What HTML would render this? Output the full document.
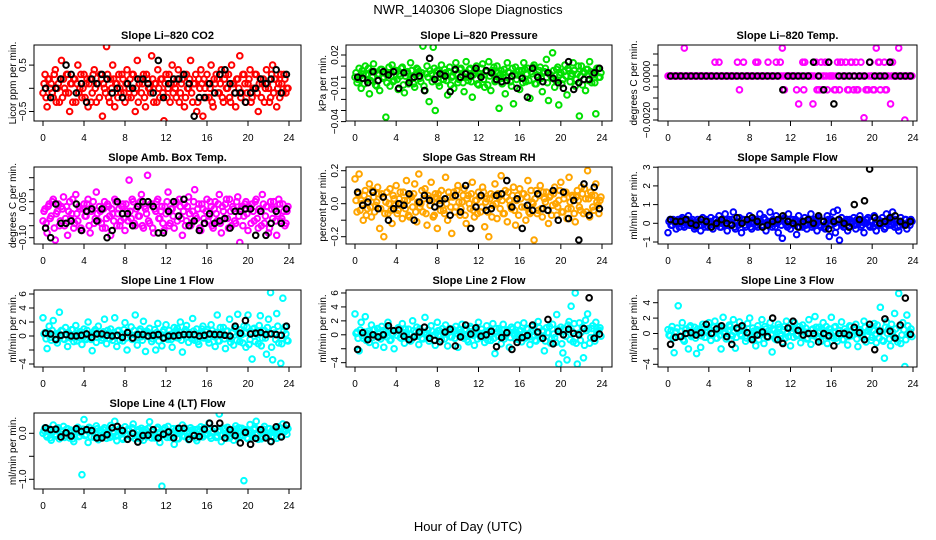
<!DOCTYPE html>
<html><head><meta charset="utf-8"><style>
body{margin:0;background:#fff}
svg{display:block;font-family:"Liberation Sans",sans-serif}
</style></head><body>
<svg id="chart" width="936" height="540" viewBox="0 0 936 540">
<text x="468" y="14" text-anchor="middle" font-size="13">NWR_140306  Slope Diagnostics</text>
<text x="468" y="531" text-anchor="middle" font-size="13">Hour of Day (UTC)</text>
</svg>
<script>
const colorStep = 0.2, color2Start = 0.1;
const blackStep = 0.5, blackStart = 0.25;
const xTicks = [0,4,8,12,16,20,24];

const co2 = [-0.1,0.3,-0.4,0.2,0.1,-0.2,0.4,0.0,-0.3,0.6,0.2,-0.1,0.3,-0.5,0.1,0.2,-0.3,0.5,0.0,-0.2,
0.3,0.1,-0.4,0.2,-0.1,0.4,-0.3,0.1,0.3,-0.6,0.0,0.9,-0.2,0.2,0.5,-0.4,0.1,0.3,-0.1,0.2,
-0.3,0.4,0.0,-0.2,0.3,-0.5,0.6,0.1,-0.1,0.3,-0.4,0.2,0.0,0.7,-0.3,0.1,0.4,-0.2,0.2,-0.7,
0.3,0.0,-0.3,0.5,0.1,-0.2,0.4,-0.1,0.2,-0.4,0.3,0.0,0.6,-0.3,0.1,-0.5,0.2,0.4,-0.6,0.0,
0.3,-0.2,0.5,-0.4,0.1,0.2,-0.1,0.4,-0.3,0.3,0.0,-0.2,0.5,0.1,-0.4,0.2,0.7,-0.1,0.3,-0.3,
0.1,0.4,-0.2,0.0,0.3,-0.5,0.2,0.1,-0.3,0.4,0.0,-0.2,0.5,0.2,-0.4,0.1,0.3,-0.1,0.2,0.0];
const co2B = [0.1,-0.2,0.2,0.0,-0.1,0.3,-0.3,0.1,0.2,-0.2,0.0,0.3,-0.1,0.1,-0.3,0.2,0.1,-0.1,0.3,0.0,
-0.2,0.2,0.1,-0.3,0.3,0.0,0.1,-0.2,0.2,0.1,-0.1,0.3,-0.3,0.0,0.2,0.1,-0.2,0.0,0.3,-0.1,
0.1,-0.2,0.2,0.3,-0.1,0.0,-0.3,0.2,0.1,-0.2,0.3,0.0,-0.1,0.2,0.1,-0.3,0.0,0.2,-0.1,0.1,
-0.2,0.3,0.1,-0.1,0.0,0.2,-0.3,0.1,0.3,-0.2,0.0,0.2,-0.1,0.1,0.3,-0.3,0.0,0.1,0.2,-0.2,
0.1,0.0,-0.3,0.2,0.3,-0.1,0.1,-0.2,0.2,0.0,0.3,-0.3,0.1,-0.1,0.2,0.0,-0.2,0.3,0.1,-0.1,
0.2,-0.3,0.0,0.3,-0.1,0.1,-0.2,0.2,0.0,0.1,-0.3,0.3,-0.1,0.2,0.0,-0.2,0.1,0.3,-0.1,0.0];
const co2Black = [0.0,-0.2,0.0,0.2,0.5,0.3,-0.1,0.1,-0.3,0.2,0.1,0.3,0.2,-0.1,0.0,-0.2,0.1,0.0,0.2,0.2,0.1,-0.1,0.6,-0.2,0.1,0.2,0.2,0.3,0.1,-0.6,-0.2,-0.2,0.1,-0.1,0.3,0.4,0.1,-0.1,-0.1,-0.3,-0.1,0.0,0.2,0.1,0.2,0.4,-0.1,0.3];

const pres = [0.000,-0.005,0.008,-0.010,0.003,0.010,-0.002,-0.015,0.005,0.012,-0.007,0.002,-0.012,0.007,0.000,-0.036,0.004,-0.008,0.011,-0.003,
0.006,-0.011,0.001,0.009,-0.014,0.004,-0.006,0.013,0.000,-0.009,0.008,0.005,-0.004,0.028,-0.012,0.010,-0.022,0.003,0.027,-0.030,
0.006,-0.008,0.011,-0.002,0.004,-0.016,0.009,0.000,-0.010,0.013,-0.005,0.007,0.002,-0.013,0.014,-0.003,0.008,-0.018,0.004,0.010,
-0.007,0.001,0.012,-0.009,0.005,0.014,-0.012,0.003,-0.004,0.010,-0.028,0.006,0.000,-0.015,0.013,0.004,-0.008,-0.024,0.009,0.002,
-0.011,0.006,0.013,-0.004,0.008,-0.019,0.003,0.011,-0.006,0.000,0.009,-0.013,0.005,0.016,-0.021,0.002,0.022,-0.009,0.007,-0.025,
0.004,-0.002,0.011,-0.016,0.006,0.001,0.013,-0.008,0.003,-0.035,0.010,0.005,-0.012,0.007,0.014,-0.005,0.002,-0.033,0.008,0.000];
const presB = [0.004,-0.002,0.001,0.006,-0.006,0.002,0.008,-0.003,0.000,0.005,-0.008,0.003,0.007,-0.001,0.004,-0.005,0.009,0.001,-0.004,0.006,
-0.002,0.003,0.008,-0.007,0.001,0.005,-0.003,0.006,-0.006,0.002,0.007,-0.001,0.004,-0.008,0.003,0.000,0.006,-0.004,0.008,0.001,
-0.005,0.004,0.002,0.007,-0.003,0.005,-0.007,0.001,0.006,0.003,-0.002,0.008,-0.005,0.004,0.000,0.007,-0.004,0.002,0.006,-0.006,
0.003,0.008,-0.002,0.005,-0.007,0.001,0.006,0.009,-0.003,0.004,0.002,-0.006,0.007,0.000,0.005,-0.004,0.008,0.002,-0.002,0.006,
0.001,-0.005,0.007,0.003,-0.003,0.005,0.009,-0.006,0.002,0.006,-0.001,0.004,0.008,-0.005,0.003,0.000,0.006,-0.003,0.009,0.002,
-0.006,0.005,0.001,0.008,-0.004,0.003,0.006,-0.002,0.010,0.001,-0.007,0.004,0.007,-0.003,0.005,0.002,-0.005,0.008,0.000,0.004];
const presBlack = [0.000,-0.001,-0.005,0.005,-0.003,0.005,0.002,0.005,-0.010,0.004,-0.005,0.000,0.001,-0.012,0.017,-0.002,0.003,0.001,-0.013,0.007,0.000,0.003,0.001,0.008,0.000,0.006,0.004,-0.002,-0.004,-0.003,0.001,-0.010,-0.001,-0.018,0.008,0.000,-0.004,0.004,-0.001,-0.005,-0.010,0.014,-0.011,-0.005,-0.002,-0.002,0.004,0.008];

// temperature values in units of 1e-4 degC/min
const temp = [0,0,0,0,0,0,0,0,12.7,0,0,0,0,0,0,0,0,0,0,0,
0,0,0,6.3,0,6.3,0,0,0,0,0,0,0,0,6.3,-6.3,0,6.3,0,0,
0,0,0,6.3,6.3,0,0,0,0,6.3,0,0,0,6.3,0,6.3,12.7,-6.3,0,0,
0,0,0,-6.3,-12.7,0,6.3,6.3,0,0,0,-12.7,6.3,-6.3,-6.3,6.3,0,6.3,-6.3,0,
0,0,-6.3,6.3,-6.3,6.3,0,6.3,-6.3,0,6.3,-6.3,6.3,-6.3,0,0,-19,-6.3,-6.3,6.3,
0,-6.3,12.7,6.3,-6.3,0,6.3,-6.3,0,-12.7,6.3,0,0,12.7,0,0,-20,0,0,0];
const tempB = [0,0,0,0,0,0,0,0,0,0,0,0,0,0,0,0,0,0,0,0,
0,0,0,0,0,0,0,0,0,0,0,0,0,0,0,0,0,0,0,0,
0,0,0,0,0,0,0,0,0,0,0,0,0,0,0,0,0,0,0,0,
0,0,0,0,0,0,-6.3,0,0,0,0,0,6.3,0,0,-6.3,0,0,6.3,0,
0,-6.3,0,0,6.3,0,0,0,-6.3,6.3,0,0,-6.3,0,6.3,0,0,-6.3,0,0,
-6.3,0,0,6.3,0,0,-6.3,0,6.3,0,0,0,0,0,0,0,0,0,0,0];
const tempBlack = [0,0,0,0,0,0,0,0,0,0,0,0,0,0,0,0,0,0,0,0,0,0,-6.3,0,0,0,0,0,6.3,0,-6.3,6.3,-12.7,0,0,0,0,0,0,6.3,0,0,0,6.3,0,0,0,0];

const amb = [-0.03,0.02,-0.08,0.04,-0.01,0.06,-0.11,0.01,-0.05,0.03,0.07,-0.02,-0.09,0.05,0.00,-0.06,0.08,-0.03,0.02,-0.07,
0.04,-0.01,0.06,-0.08,0.02,-0.04,0.09,-0.03,0.01,-0.06,0.05,-0.02,0.03,-0.09,0.00,0.06,-0.05,0.02,-0.03,0.04,
-0.07,0.01,0.14,-0.02,0.05,-0.05,0.03,-0.01,0.08,-0.06,0.02,0.16,-0.04,0.04,-0.08,0.01,0.06,-0.02,0.03,-0.07,
0.00,0.09,-0.04,0.02,-0.06,0.05,-0.01,0.03,-0.09,0.04,-0.03,0.07,-0.05,0.01,0.10,-0.02,0.04,-0.07,0.02,-0.04,
0.06,-0.01,0.03,-0.06,0.05,-0.03,0.08,-0.08,0.01,0.04,-0.02,0.06,-0.05,0.02,-0.04,0.07,-0.12,0.03,-0.01,0.05,
-0.07,0.02,0.04,-0.03,0.06,-0.06,0.01,0.08,-0.04,0.03,-0.08,0.05,-0.02,0.02,-0.09,0.06,-0.03,0.04,-0.05,0.01];
const ambB = [0.01,-0.04,0.03,-0.02,0.05,-0.06,0.00,0.04,-0.03,0.02,-0.05,0.03,0.01,-0.02,0.06,-0.04,0.00,0.03,-0.06,0.02,
-0.01,0.04,-0.05,0.01,0.05,-0.02,0.00,0.03,-0.04,0.02,-0.06,0.04,-0.01,0.02,-0.03,0.05,0.00,-0.05,0.03,-0.02,
0.04,-0.03,0.01,0.06,-0.04,0.02,-0.01,0.05,-0.05,0.03,0.00,-0.03,0.04,-0.06,0.02,0.05,-0.02,0.01,-0.04,0.03,
0.05,-0.05,0.02,-0.01,0.04,-0.03,0.06,-0.02,0.01,-0.05,0.03,0.00,-0.04,0.05,-0.01,0.02,-0.06,0.04,-0.02,0.01,
-0.03,0.05,-0.05,0.02,0.00,0.04,-0.04,0.03,-0.02,0.06,-0.06,0.01,0.03,-0.03,0.05,-0.01,0.02,-0.05,0.04,0.00,
0.03,-0.04,0.01,0.05,-0.02,0.02,-0.05,0.04,-0.01,0.03,-0.06,0.02,0.05,-0.03,0.00,0.04,-0.02,0.01,-0.04,0.03];
const ambBlack = [-0.06,-0.10,0.04,-0.04,-0.04,-0.03,0.04,-0.07,0.01,0.02,-0.03,0.02,-0.10,-0.07,0.05,0.00,0.00,-0.05,0.03,0.05,0.05,0.03,-0.08,-0.08,0.01,0.05,-0.01,0.06,-0.05,-0.03,-0.07,-0.04,0.00,-0.04,-0.03,-0.02,-0.06,0.01,0.01,0.02,0.02,-0.09,0.01,-0.09,-0.04,0.01,-0.04,0.02];

const rh = [0.15,-0.05,0.18,0.02,-0.10,0.08,-0.03,0.12,-0.08,0.04,-0.01,0.10,-0.15,0.06,-0.20,0.01,-0.06,0.09,-0.12,0.03,
0.11,-0.04,0.07,-0.09,0.02,0.14,-0.07,0.05,-0.02,0.12,-0.11,0.18,0.00,-0.05,0.09,-0.13,0.03,0.13,-0.08,0.06,
-0.15,0.02,0.08,-0.04,0.16,-0.10,0.04,-0.18,0.07,-0.02,0.11,-0.07,0.01,0.09,-0.12,0.05,-0.03,0.13,-0.08,0.02,
0.07,-0.05,0.10,-0.14,0.03,-0.20,0.06,-0.01,0.12,-0.09,0.04,0.17,-0.06,0.08,-0.11,0.02,-0.03,0.10,-0.13,0.05,
0.09,-0.02,0.06,-0.10,0.14,-0.06,0.01,-0.22,0.08,-0.04,0.11,-0.08,0.03,0.07,-0.12,0.05,-0.01,0.10,-0.07,0.02,
0.13,-0.05,0.06,-0.09,0.16,-0.03,0.04,-0.11,0.08,-0.02,0.10,-0.06,0.03,0.20,-0.08,0.05,-0.04,0.12,-0.01,0.02];
const rhB = [0.02,0.06,-0.04,0.00,0.05,-0.07,0.03,-0.02,0.08,-0.05,0.01,0.06,-0.03,0.04,-0.06,0.07,0.00,-0.04,0.05,-0.01,
-0.06,0.03,0.00,0.07,-0.03,0.02,-0.08,0.04,0.06,-0.05,0.01,-0.02,0.08,0.03,-0.06,0.05,-0.01,0.02,-0.07,0.04,
0.06,-0.04,0.02,-0.06,0.00,0.07,-0.02,0.04,-0.05,0.08,0.01,-0.03,0.05,-0.07,0.03,0.00,0.06,-0.04,0.02,-0.06,
0.04,-0.02,0.07,0.01,-0.05,0.03,-0.08,0.05,0.00,0.06,-0.03,0.02,-0.06,0.04,0.07,-0.01,0.05,-0.04,0.02,-0.07,
0.03,0.06,-0.02,0.04,-0.05,0.08,0.00,0.03,-0.06,0.05,-0.03,0.07,0.01,-0.04,0.04,-0.07,0.06,0.00,-0.02,0.08,
-0.05,0.03,0.07,-0.03,0.01,0.05,-0.06,0.04,0.02,-0.04,0.06,0.09,-0.05,0.03,0.07,-0.02,0.05,0.01,-0.06,0.04];
const rhBlack = [0.07,-0.01,0.01,0.07,-0.03,0.04,-0.10,-0.03,0.00,-0.01,0.06,-0.10,0.01,0.05,0.02,-0.02,0.00,0.03,-0.07,0.05,-0.05,0.11,-0.15,-0.02,0.05,-0.04,-0.03,0.05,0.06,0.14,-0.02,0.03,-0.15,-0.01,-0.04,0.06,-0.03,-0.04,0.08,-0.10,0.07,-0.09,0.02,-0.22,0.12,-0.07,0.10,-0.03];

const sflow = [-0.5,0.2,-0.1,0.1,-0.3,0.2,0.0,0.3,-0.2,0.1,0.4,-0.1,0.2,-0.3,0.0,0.1,-0.4,0.3,-0.2,0.1,
0.0,0.3,-0.3,0.2,-0.1,0.4,-0.2,0.1,0.5,-0.4,0.2,-0.1,0.6,-0.3,0.1,0.3,-0.5,0.2,-0.2,0.1,
0.4,-0.3,0.0,0.2,-0.2,0.5,-0.1,0.3,-0.4,0.1,0.6,-0.2,0.0,0.4,-0.5,0.2,-0.8,0.3,-0.1,0.5,
-0.3,0.2,0.1,-0.6,0.4,0.0,-0.2,0.3,-0.3,0.1,0.5,-0.1,0.2,-0.4,0.3,-0.2,0.1,-0.3,0.4,-0.7,
0.2,0.6,-0.5,0.7,-0.9,0.3,-0.2,0.1,-0.4,0.2,0.0,0.3,-0.3,0.1,0.4,-0.1,-0.5,0.2,0.3,-0.2,
0.1,0.4,-0.4,0.2,0.0,0.3,-0.3,0.5,-0.1,0.2,0.6,-0.2,0.1,-0.4,0.3,0.0,0.2,-0.3,0.1,0.2];
const sflowB = [0.1,-0.1,0.2,0.0,0.1,-0.2,0.2,-0.1,0.0,0.2,-0.1,0.1,0.0,-0.2,0.2,0.1,-0.1,0.0,0.2,-0.2,
0.1,0.0,-0.1,0.2,0.1,-0.2,0.0,0.2,-0.1,0.1,0.0,0.2,-0.2,0.1,-0.1,0.0,0.2,-0.1,0.1,0.0,
-0.2,0.1,0.2,-0.1,0.0,0.1,-0.2,0.2,0.0,-0.1,0.1,0.2,-0.2,0.0,0.1,-0.1,0.2,0.0,-0.2,0.1,
0.0,-0.1,0.2,0.1,-0.2,0.0,0.1,-0.1,0.2,0.0,-0.2,0.1,0.0,0.2,-0.1,0.1,-0.2,0.0,0.2,-0.1,
0.1,0.0,-0.2,0.2,0.0,-0.1,0.1,0.2,-0.2,0.0,0.1,-0.1,0.2,0.0,-0.2,0.1,0.0,0.2,-0.1,0.1,
-0.2,0.0,0.2,-0.1,0.1,0.0,-0.2,0.2,0.1,-0.1,0.0,0.2,-0.2,0.1,0.0,-0.1,0.2,0.0,-0.1,0.1];
const sflowBlack = [0.2,0.1,0.1,0.2,0.0,-0.1,0.2,0.1,-0.2,0.0,0.2,0.0,-0.1,0.3,0.0,0.2,0.3,0.1,-0.2,-0.1,0.1,0.2,0.4,0.1,0.0,-0.2,0.1,0.2,0.0,0.4,0.1,-0.3,0.1,0.2,0.0,-0.2,1.0,0.2,1.2,2.9,0.3,0.0,0.1,0.3,0.4,0.1,-0.1,0.1];

const line1 = [2.6,0.5,-1.8,1.4,-0.6,2.2,0.3,-1.0,3.4,0.8,-0.4,1.2,-1.5,0.2,0.9,-0.8,1.5,-0.2,0.6,-1.2,
1.0,-0.5,2.0,0.1,-2.1,0.7,-0.9,1.4,0.0,-0.3,2.4,-1.1,0.4,1.0,-0.6,2.6,-1.5,0.8,0.2,-0.7,
1.9,-2.0,0.5,1.3,-0.4,3.0,-1.3,0.7,-0.1,2.1,-2.2,0.6,1.1,-0.8,0.3,-2.0,1.8,0.0,-1.4,0.9,
1.6,-0.5,0.2,-1.6,1.2,0.8,-0.3,2.0,-2.3,0.6,1.5,-0.9,0.1,2.5,-0.6,1.0,-1.2,0.4,1.4,-0.2,
0.9,-1.0,1.6,0.3,-1.5,3.0,-0.7,0.5,1.2,-1.8,0.7,2.4,-0.4,-1.3,1.0,3.1,-0.8,0.2,1.4,-1.6,
3.0,-0.5,-3.3,1.1,0.6,-1.1,2.9,-0.3,0.8,-2.6,2.4,6.2,-3.4,0.4,3.2,-1.0,-3.9,5.4,1.3,-0.6];
const line1B = [0.3,-0.4,0.6,-0.2,0.8,0.1,-0.6,0.4,-0.1,0.7,-0.5,0.2,0.5,-0.3,0.9,0.0,-0.7,0.3,0.6,-0.2,
-0.4,0.8,0.1,-0.5,0.4,0.9,-0.2,0.3,-0.6,0.6,0.0,0.8,-0.4,0.2,0.5,-0.1,0.7,-0.6,0.3,0.9,
-0.3,0.6,0.1,-0.5,0.8,0.2,-0.2,1.0,-0.6,0.4,0.7,-0.1,0.3,-0.4,0.9,0.5,-0.7,0.2,0.6,-0.3,
0.1,0.8,-0.5,0.4,-0.2,1.1,0.6,-0.6,0.3,0.9,-0.1,0.5,-0.4,0.7,0.2,-0.8,0.4,1.0,-0.3,0.6,
-0.5,0.3,0.8,-0.1,0.5,-0.7,1.2,0.2,-0.4,0.7,0.0,-0.9,0.5,1.1,-0.6,0.3,0.9,-1.0,0.4,1.3,
-1.2,0.6,1.0,-0.8,0.2,1.5,-1.4,0.7,-0.3,1.2,0.4,-1.6,0.9,-0.5,1.4,0.1,-1.1,0.8,0.3,-0.7];
const line1Black = [0.4,0.3,-0.5,0.1,0.2,0.0,0.0,0.1,0.3,-0.2,0.3,0.3,0.1,0.0,0.1,-0.2,0.5,-0.3,0.2,0.2,0.0,0.1,0.2,-0.3,0.0,0.0,0.1,0.2,0.2,0.2,0.0,0.1,0.3,0.2,0.2,0.1,0.0,1.4,0.4,2.2,0.3,0.4,0.5,0.2,0.3,0.2,0.1,1.4];

const line2 = [3.0,0.4,-2.3,1.8,-0.5,2.6,0.2,-1.1,1.4,0.7,-1.5,0.9,-0.3,1.2,-1.8,0.5,1.8,-0.8,0.1,-2.0,
0.6,1.0,-0.4,1.6,-1.2,0.3,0.8,-0.9,2.0,-0.2,1.1,-1.4,0.4,-0.6,2.5,0.2,-0.9,1.3,-0.1,-1.5,
1.8,0.6,-0.7,0.1,1.4,-1.6,0.9,-0.3,0.5,1.2,-1.8,0.3,1.5,-0.5,0.8,-1.0,1.2,0.0,-1.5,0.7,
1.8,-0.4,0.2,-1.1,1.3,0.6,-0.8,1.6,-2.7,0.4,0.9,-1.3,1.5,-0.2,0.7,-1.8,1.1,0.2,-0.6,1.4,
0.5,-1.0,1.7,-0.3,0.8,-1.4,1.2,0.0,-0.9,1.9,-0.5,0.6,-2.3,1.0,0.3,-1.2,1.5,-0.4,2.9,-4.2,
1.1,-2.6,0.7,-3.6,1.9,4.1,-1.0,6.0,-4.2,1.7,0.4,-3.3,2.1,3.0,-1.2,0.9,-0.4,1.8,0.5,1.0];
const line2B = [0.2,-0.5,0.7,-0.1,0.4,-0.8,0.5,0.1,-0.4,0.8,-0.2,0.3,-0.6,0.6,0.0,-0.3,0.9,-0.7,0.2,0.5,
-0.1,0.7,-0.5,0.3,0.8,-0.3,0.1,-0.7,0.6,0.4,-0.2,0.9,-0.5,0.2,0.0,0.7,-0.4,0.5,-0.8,0.3,
0.6,-0.2,0.9,-0.6,0.1,0.4,-0.3,0.8,-0.5,0.2,0.7,0.0,-0.4,0.6,-0.7,0.3,0.9,-0.1,0.5,-0.6,
0.2,0.8,-0.3,0.4,-0.8,0.6,0.1,-0.5,0.9,-0.2,0.3,0.7,-0.6,0.0,0.5,-0.4,0.8,-0.1,0.3,-0.7,
0.6,0.1,-0.5,0.9,-0.3,0.4,0.7,-0.8,0.2,1.0,-0.4,0.5,-0.9,0.3,1.2,-0.6,0.1,-1.1,0.8,0.4,
-1.3,0.9,-0.2,1.4,-0.7,0.5,1.6,-1.2,0.2,-0.8,1.1,-1.5,0.6,0.9,-0.4,1.3,-0.9,0.3,0.7,-0.2];
const line2Black = [-2.1,0.3,-0.7,0.0,-0.3,0.0,1.3,0.6,0.7,-0.2,-0.7,-0.3,0.4,1.1,-0.5,-0.8,-1.0,0.4,0.8,-1.6,-0.3,1.4,0.1,1.0,-0.2,0.0,0.5,-1.7,-0.4,0.3,-2.1,-1.1,-0.4,-0.1,1.4,0.4,-0.5,2.2,-1.3,0.5,0.0,0.8,0.2,0.0,0.9,5.3,-0.5,0.1];

const line3 = [0.5,-0.3,0.9,-2.5,0.2,3.6,-0.4,1.4,-1.0,0.6,-2.0,1.0,-0.2,0.8,-2.6,0.3,-1.8,1.2,-0.5,0.4,
1.4,-0.9,0.1,1.6,-0.6,0.9,-2.0,2.1,0.2,-0.4,1.1,-0.8,1.8,-1.9,0.5,1.5,-0.3,0.7,-1.0,1.3,
2.0,-0.6,0.3,-1.6,1.0,-0.2,1.8,-1.3,0.6,-0.5,1.4,-2.4,0.4,-0.8,1.2,0.0,-1.1,0.9,1.6,-0.4,
-1.6,0.7,1.4,-0.3,0.5,-1.2,1.1,0.2,-0.7,1.8,-1.4,0.6,2.2,-0.5,0.8,-1.0,1.4,0.1,-1.3,0.6,
2.1,-0.6,0.9,-1.0,0.4,1.5,-0.8,0.2,-1.5,1.0,-0.3,0.7,1.2,-1.7,0.5,-0.4,1.6,-1.1,0.3,0.8,
-0.5,1.3,-1.2,0.4,3.4,-0.9,-3.2,1.5,0.6,-1.6,0.2,2.6,-0.7,5.2,-1.3,1.4,-4.3,2.4,-0.2,0.6];
const line3B = [-0.2,0.4,-0.6,0.1,0.7,-0.3,0.3,-0.8,0.5,0.0,0.8,-0.4,0.2,-0.6,0.6,0.1,-0.3,0.9,-0.5,0.2,
0.5,-0.1,0.8,-0.6,0.3,-0.2,0.7,0.0,-0.7,0.4,0.9,-0.3,0.2,-0.5,0.6,-0.1,0.8,0.3,-0.6,0.1,
-0.4,0.7,-0.2,0.5,-0.8,0.3,0.0,0.9,-0.5,0.4,-0.1,0.6,-0.7,0.2,0.8,-0.3,0.5,-0.6,0.1,0.7,
0.3,-0.5,0.6,-0.1,0.9,-0.4,0.2,0.7,-0.6,0.0,0.5,-0.3,0.8,-0.7,0.3,0.6,-0.2,0.9,-0.5,0.1,
-0.3,0.8,-0.6,0.4,0.0,-0.8,0.6,0.2,-0.4,0.9,-0.2,0.5,-0.7,0.3,0.1,-0.5,0.8,-0.3,0.6,-0.9,
0.4,-0.1,1.1,-0.6,0.3,-1.0,0.8,0.0,-0.7,1.2,-0.4,0.6,-1.1,0.9,-0.2,0.5,-0.8,1.0,0.2,-0.4];
const line3Black = [-1.4,-0.5,-0.4,0.0,0.1,-0.2,0.1,1.2,0.0,0.6,1.0,-0.4,-1.4,0.7,1.0,0.1,-0.8,-0.2,0.2,-0.4,2.0,-0.8,-1.3,0.7,1.6,0.4,-0.2,0.0,0.0,-1.1,0.0,-0.3,-1.6,0.0,0.0,-0.2,0.8,0.1,-0.8,1.2,-2.1,0.3,1.9,0.3,-0.6,1.1,4.6,-0.1];

const line4 = [0.0,0.12,-0.08,0.05,-0.15,0.18,-0.02,0.08,-0.12,0.03,0.15,-0.05,0.10,-0.10,0.02,-0.18,0.06,0.13,-0.06,-0.90,
0.30,-0.03,-0.20,0.11,0.04,-0.09,0.16,-0.14,0.07,-0.04,0.12,-0.11,0.01,0.17,-0.07,0.26,-0.16,0.05,0.09,-0.13,
0.14,-0.02,0.06,-0.08,0.20,-0.12,0.03,-0.05,0.11,-0.15,0.08,-0.01,0.25,-0.10,0.04,-0.06,0.13,-0.20,-1.15,0.07,
-0.03,0.15,-0.09,0.02,-0.24,0.10,-0.12,0.05,0.18,-0.07,0.01,-0.14,0.12,-0.04,0.08,-0.16,0.03,0.14,-0.08,0.06,
-0.02,0.22,-0.11,0.04,0.10,-0.06,0.42,-0.18,0.09,-0.03,0.13,-0.10,0.05,-0.15,0.16,0.02,-0.07,0.11,-1.03,0.06,
-0.12,0.19,-0.04,0.08,0.26,-0.13,0.03,-0.09,0.15,-0.05,0.10,-0.17,0.07,0.01,-0.11,0.14,-0.06,0.20,0.04,-0.02];
const line4B = [0.06,-0.04,0.10,-0.10,0.02,0.08,-0.06,0.12,-0.02,0.05,-0.09,0.09,-0.03,0.07,-0.12,0.04,0.11,-0.07,0.01,0.09,
-0.05,0.06,0.13,-0.08,0.03,-0.01,0.10,-0.11,0.05,0.08,-0.04,0.02,-0.09,0.12,0.00,-0.06,0.07,0.10,-0.10,0.04,
-0.03,0.09,-0.07,0.12,0.01,-0.05,0.08,-0.12,0.06,0.02,-0.08,0.11,-0.02,0.05,-0.10,0.09,0.00,-0.06,0.07,0.12,
-0.09,0.04,-0.03,0.10,0.06,-0.11,0.02,0.08,-0.05,0.11,-0.08,0.03,0.07,-0.01,-0.10,0.09,0.05,-0.07,0.12,-0.03,
0.08,-0.06,0.01,0.10,-0.09,0.04,0.07,-0.04,0.11,-0.11,0.02,0.06,-0.02,0.09,-0.07,0.12,0.03,-0.05,0.08,-0.10,
0.05,0.00,-0.08,0.11,-0.03,0.07,-0.12,0.09,0.02,-0.06,0.10,0.04,-0.09,0.06,-0.01,0.12,-0.07,0.03,0.08,0.10];
const line4Black = [0.12,0.08,0.09,-0.08,0.01,-0.06,0.10,0.04,0.08,0.06,-0.10,-0.10,-0.03,0.12,0.15,0.06,-0.13,0.00,-0.19,-0.05,-0.04,0.08,-0.10,-0.02,0.03,-0.10,0.11,0.11,-0.13,-0.05,-0.07,0.09,0.22,0.10,0.22,-0.10,0.08,-0.05,-0.21,0.02,-0.24,-0.11,0.08,-0.10,-0.18,0.14,-0.08,0.18];

const titles = ["Slope Li\u2013820 CO2","Slope Li\u2013820 Pressure","Slope Li\u2013820 Temp.","Slope Amb. Box Temp.","Slope Gas Stream RH","Slope Sample Flow","Slope Line 1 Flow","Slope Line 2 Flow","Slope Line 3 Flow","Slope Line 4 (LT) Flow"];
const yTitles = ["Licor ppm per min.","kPa per min.","degrees C per min.","degrees C per min.","percent per min.","ml/min per min.","ml/min per min.","ml/min per min.","ml/min per min.","ml/min per min."];
const yTicks = [[0.5,0,-0.5],[0.02,0.01,0,-0.01,-0.02,-0.03,-0.04],[10,5,0,-5,-10,-15,-20],[0.15,0.1,0.05,0,-0.05,-0.1],[0.2,0.1,0,-0.1,-0.2],[3,2,1,0,-1],[6,4,2,0,-2,-4],[6,4,2,0,-2,-4],[4,2,0,-2,-4],[0,-0.5,-1]];
const yTickLabels = [["0.5","","\u22120.5"],["0.02","","","\u22120.01","","","\u22120.04"],["","","0.0000","","","","\u22120.0020"],["","","0.05","","","\u22120.10"],["0.2","","0.0","","\u22120.2"],["3","2","1","0","\u22121"],["6","4","2","0","","\u22124"],["6","4","2","0","","\u22124"],["4","2","0","","\u22124"],["0.0","","\u22121.0"]];
const colorSeries = [co2,pres,temp,amb,rh,sflow,line1,line2,line3,line4];
const colorSeries2 = [co2B,presB,tempB,ambB,rhB,sflowB,line1B,line2B,line3B,line4B];
const blackSeries = [co2Black,presBlack,tempBlack,ambBlack,rhBlack,sflowBlack,line1Black,line2Black,line3Black,line4Black];

// layout (not data)
const cols = [{L:34,R:301,x0:43,x24:289,yt:12},{L:346,R:612,x0:355,x24:602,yt:322},{L:658,R:917,x0:668,x24:913,yt:633}];
const rows = [{T:45,B:121},{T:167,B:244},{T:290,B:367},{T:413,B:489}];
const yScale = [{z:88.3,k:46.4},{z:77.2,k:1110},{z:76,k:2.2},{z:213.7,k:240},{z:203.7,k:165},{z:223.3,k:18.7},{z:336,k:7.0},{z:334.8,k:6.97},{z:333.5,k:7.7},{z:433.3,k:46}];
const colors = ["#ff0000","#00e000","#ff00ff","#ff00ff","#ffa500","#0000ff","#00ffff","#00ffff","#00ffff","#00ffff"];
const names = ["co2","pressure","li820-temp","amb-box-temp","gas-stream-rh","sample-flow","line1-flow","line2-flow","line3-flow","line4-flow"];

const NS = "http://www.w3.org/2000/svg";
const svg = document.getElementById("chart");
function mk(tag, attrs, parent){const e=document.createElementNS(NS,tag);for(const k in attrs)e.setAttribute(k,attrs[k]);(parent||svg).appendChild(e);return e;}

for (let p=0;p<10;p++){
  const c = cols[p%3], r = rows[Math.floor(p/3)], s = yScale[p];
  const xs = h => c.x0 + (c.x24-c.x0)*h/24;
  const ys = v => s.z - v*s.k;
  const g = mk("g",{});
  
  
  const clip = mk("clipPath",{id:"cl"+p},g);
  mk("rect",{x:c.L,y:r.T,width:c.R-c.L,height:r.B-r.T},clip);
  const pts = mk("g",{"clip-path":"url(#cl"+p+")"},g);
  
  
  colorSeries[p].forEach((v,i)=>{
    const e = mk("circle",{cx:xs(i*colorStep),cy:ys(v),r:2.8,fill:"none",stroke:colors[p],"stroke-width":2},pts);
    
    
  });
  colorSeries2[p].forEach((v,i)=>{
    const e = mk("circle",{cx:xs(color2Start+i*colorStep),cy:ys(v),r:2.8,fill:"none",stroke:colors[p],"stroke-width":2},pts);
    
    
  });
  blackSeries[p].forEach((v,i)=>{
    const e = mk("circle",{cx:xs(blackStart+i*blackStep),cy:ys(v),r:2.8,fill:"none",stroke:"#000","stroke-width":2},pts);
    
    
  });
  const box = mk("rect",{x:c.L,y:r.T,width:c.R-c.L,height:r.B-r.T,fill:"none",stroke:"#000","stroke-width":1},g);
  
  
  const t = mk("text",{x:(c.L+c.R)/2,y:r.T-6,"text-anchor":"middle","font-size":11,"font-weight":"bold"},g);
  t.textContent = titles[p];
  
  
  const yt = mk("text",{x:0,y:0,"text-anchor":"middle","font-size":10,transform:`translate(${c.yt+4},${(r.T+r.B)/2}) rotate(-90)`},g);
  yt.textContent = yTitles[p];
  
  
  mk("line",{x1:xs(0),x2:xs(24),y1:r.B,y2:r.B,stroke:"#000"},g);
  xTicks.forEach(h=>{
    mk("line",{x1:xs(h),x2:xs(h),y1:r.B,y2:r.B+5,stroke:"#000"},g);
    const l = mk("text",{x:xs(h),y:r.B+20,"text-anchor":"middle","font-size":10},g);
    l.textContent = h;
    
    
  });
  yTicks[p].forEach((v,i)=>{
    const y = ys(v);
    mk("line",{x1:c.L-5,x2:c.L,y1:y,y2:y,stroke:"#000"},g);
    if (yTickLabels[p][i]) {
      const l = mk("text",{x:0,y:0,"text-anchor":"middle","font-size":10,transform:`translate(${c.L-8},${y}) rotate(-90)`},g);
      l.textContent = yTickLabels[p][i];
      
      
    }
  });
}
</script>
</body></html>
